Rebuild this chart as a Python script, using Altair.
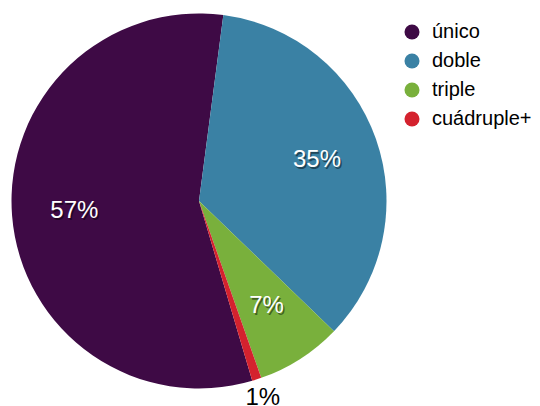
import math
import altair as alt
import pandas as pd

categories = ["único", "doble", "triple", "cuádruple+"]
values = [56.6, 35.1, 7.4, 0.8]
labels = ["57%", "35%", "7%", "1%"]
colors = ["#3e0a45", "#3a81a4", "#79b03c", "#d4222e"]

df = pd.DataFrame({
    "cat": categories,
    "value": values,
    "label": labels,
    "idx": list(range(len(categories))),
})

total = float(sum(values))
start = math.radians(163.5)
theta_scale = alt.Scale(domain=[0, total], range=[start, start + 2 * math.pi])

pie = alt.Chart(df).mark_arc(outerRadius=187.5).encode(
    theta=alt.Theta("value:Q", stack=True, scale=theta_scale),
    order=alt.Order("idx:Q", sort="ascending"),
    color=alt.Color(
        "cat:N",
        scale=alt.Scale(domain=categories, range=colors),
        legend=alt.Legend(
            title=None, orient="none", legendX=394, legendY=14,
            symbolType="circle", symbolSize=225, symbolStrokeWidth=0,
            labelFontSize=20, labelFont="Liberation Sans", labelColor="black",
            rowPadding=9, labelOffset=10,
        ),
    ),
)

txt_base = alt.Chart(df).transform_window(
    cum="sum(value)", sort=[alt.SortField("idx", order="ascending")]
).transform_calculate(
    mid="datum.cum - datum.value / 2",
    r="datum.value < 2 ? 207 : 125",
).encode(
    theta=alt.Theta("mid:Q", stack=None, scale=theta_scale),
    radius=alt.Radius("r:Q", scale=None),
    text="label:N",
)

shadow = txt_base.mark_text(
    font="Liberation Sans", fontSize=24, dx=1.5, dy=2, color="black"
).encode(
    opacity=alt.condition(alt.datum.value < 2, alt.value(0), alt.value(0.45))
)

labels_layer = txt_base.mark_text(
    font="Liberation Sans", fontSize=24
).encode(
    color=alt.condition(alt.datum.value < 2, alt.value("black"), alt.value("white"))
)

chart = alt.layer(pie, shadow, labels_layer).properties(
    width=382, height=386,
    padding={"left": 0, "top": 0, "right": 142, "bottom": 20},
    autosize=alt.AutoSizeParams(type="none"),
).configure_view(stroke=None)

chart.save("out.html", embed_options={"renderer": "svg", "actions": False})
